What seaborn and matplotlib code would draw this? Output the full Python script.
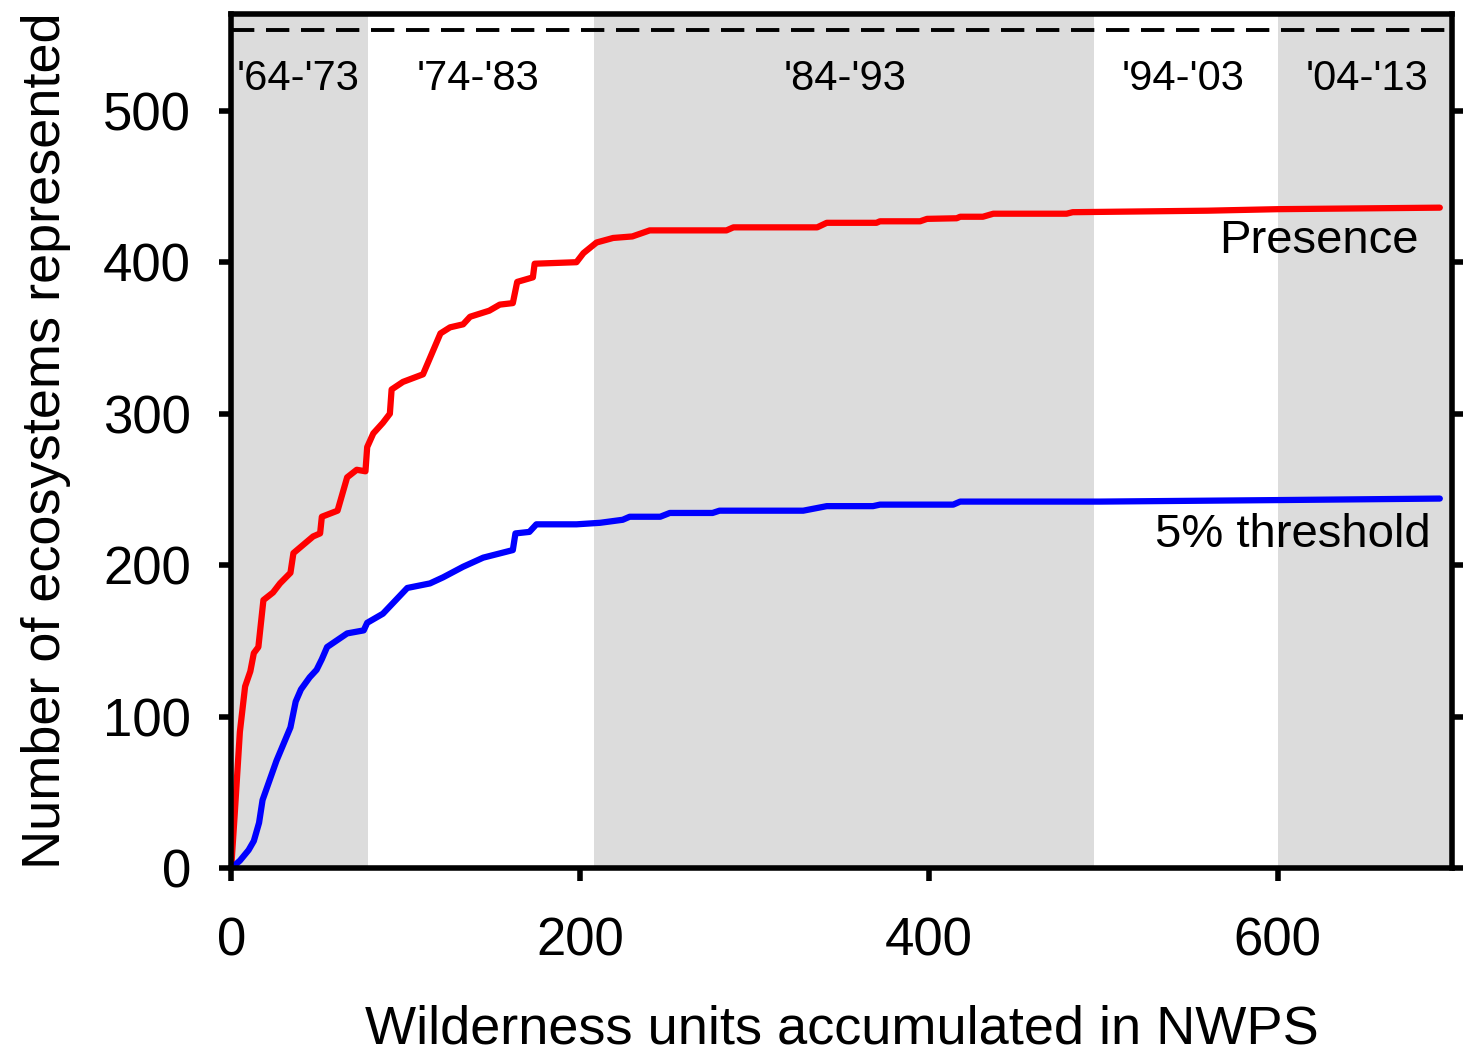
import numpy as np
import pandas as pd
import matplotlib
matplotlib.use("Agg")
import matplotlib.pyplot as plt
import seaborn as sns

# Values.
presence_x = [0, 2, 5, 8, 11, 13, 15.6, 18.5, 24, 28, 34, 35.7, 47, 51, 52, 61, 66.5, 72, 77, 78,
              81.5, 87, 91, 92, 98.5, 110, 120, 125.5, 133, 137, 148, 154, 161.5, 164, 173, 174,
              198, 202, 209.5, 219, 230, 240, 284, 288, 336, 341.5, 370, 372, 395, 399, 416, 418,
              431, 437, 479, 482.5, 560, 600, 693]
presence_y = [0, 35, 90, 120, 130, 142, 146, 177, 182, 188, 195, 208, 219, 221, 232, 236, 258, 263,
              262, 278, 287, 294, 300, 316, 321, 326, 353, 357, 359, 364, 368, 372, 373, 387, 390,
              399, 400, 406, 413, 416, 417, 421, 421, 423, 423, 426, 426, 427, 427, 428.6, 429, 430,
              430, 432, 432, 433, 434, 435, 436]

threshold_x = [0, 5, 10, 13, 16, 18, 22, 26, 30, 34, 37, 40, 45, 49, 52, 55, 66.5, 76, 78, 87, 101,
               114, 121.5, 133, 144.5, 161.5, 163, 171, 175, 198, 211.5, 224.5, 228.5, 246, 251.5,
               276, 280, 328, 341.5, 368, 372, 414, 418, 498, 600, 693]
threshold_y = [0, 5, 12, 18, 30, 45, 58, 71, 82, 93, 110, 118, 126, 131, 138, 146, 155, 157, 162,
               168, 185, 188, 192, 199, 205, 210, 221, 222, 227, 227, 228, 230, 232, 232, 234.5,
               234.5, 236, 236, 239, 239, 240, 240, 242, 242, 243, 244]

# decade bands (start, end) and their labels
band_edges = [0, 78.5, 208, 494.5, 600.5, 700]
band_labels = ["'64-'73", "'74-'83", "'84-'93", "'94-'03", "'04-'13"]
band_label_x = [38.4, 141.5, 352, 545.5, 651]
total_ecosystems = 553

sns.set_style("ticks")
plt.rcParams["font.family"] = ["Liberation Sans", "DejaVu Sans"]
plt.rcParams["text.color"] = "black"
plt.rcParams["axes.labelcolor"] = "black"
plt.rcParams["xtick.color"] = "black"
plt.rcParams["ytick.color"] = "black"
plt.rcParams["axes.edgecolor"] = "black"

fig = plt.figure(figsize=(14.63, 10.55), dpi=100)
ax = fig.add_axes([0.158, 0.177, 0.8345, 0.81])

# grey shading for alternate decades
for i in range(len(band_labels)):
    if i % 2 == 0:
        ax.axvspan(band_edges[i], band_edges[i + 1], color="#dcdcdc", lw=0, zorder=0)
    ax.text(band_label_x[i], 521, band_labels[i], ha="center", va="center", fontsize=30)

ax.axhline(total_ecosystems, color="black", ls=(0, (6, 3)), lw=2.8, zorder=2)

df_p = pd.DataFrame({"x": presence_x, "y": presence_y})
df_t = pd.DataFrame({"x": threshold_x, "y": threshold_y})
sns.lineplot(data=df_p, x="x", y="y", color="#ff0000", lw=4.5, estimator=None, ax=ax, zorder=3)
sns.lineplot(data=df_t, x="x", y="y", color="#0000ff", lw=4.5, estimator=None, ax=ax, zorder=3)

ax.text(681, 414, "Presence", ha="right", va="center", fontsize=34)
ax.text(688, 220, "5% threshold", ha="right", va="center", fontsize=34)

ax.set_xlim(0, 700)
ax.set_ylim(0, 564)
ax.set_xticks([0, 200, 400, 600])
ax.set_yticks([0, 100, 200, 300, 400, 500])
ax.tick_params(axis="both", which="both", direction="out", length=9, width=4,
               labelsize=38)
ax.tick_params(axis="y", right=True, pad=20)
ax.tick_params(axis="x", pad=26)
for s in ax.spines.values():
    s.set_linewidth(4)
    s.set_zorder(5)

ax.set_xlabel("Wilderness units accumulated in NWPS", fontsize=39)
ax.set_ylabel("Number of ecosystems represented", fontsize=39)
ax.xaxis.set_label_coords(0.5, -0.16)
ax.yaxis.set_label_coords(-0.131, 0.5)

fig.savefig("out.png", dpi=100)
